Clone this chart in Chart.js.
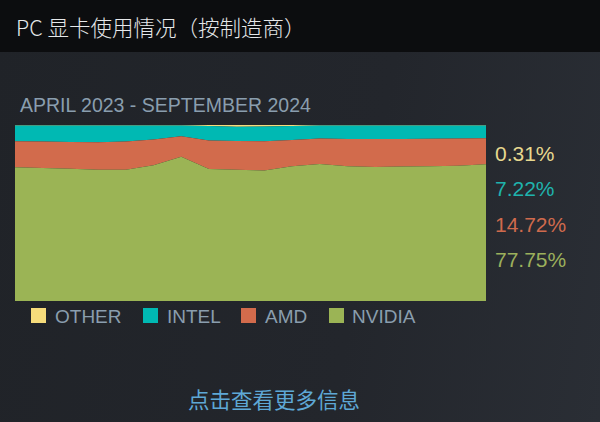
<!DOCTYPE html>
<html>
<head>
<meta charset="utf-8">
<script src="https://cdn.jsdelivr.net/npm/chart.js@4"></script>
<style>
  html, body { margin:0; padding:0; }
  body {
    width:600px; height:422px; overflow:hidden; position:relative;
    background: linear-gradient(100deg, #202328 0%, #23262c 60%, #2a2e35 100%);
    font-family: "Liberation Sans", Arial, sans-serif;
  }
  .head {
    position:absolute; left:0; top:0; width:600px; height:52px;
    background:#0c0d0f;
  }
  .head .t {
    position:absolute; left:16px; top:12px;
    font-family:"Noto Sans CJK SC", sans-serif; font-size:21.5px; line-height:30px;
    font-weight:300; color:#e6e8ea;
  }
  .sub {
    position:absolute; left:20px; top:93px; font-size:19.5px; line-height:24px;
    color:#8a9eae;
  }
  .box { position:absolute; left:15px; top:125px; width:471px; height:176px; }
  .pct { position:absolute; left:495px; font-size:21px; line-height:24px; }
  .legend { position:absolute; top:307px; left:0; height:20px; }
  .legend span.sq { position:absolute; top:1px; width:15px; height:15px; }
  .legend span.lb { position:absolute; top:0; font-size:19px; line-height:19px; color:#8a9eae; white-space:nowrap; }
  .more {
    position:absolute; left:0; width:548px; top:385px; text-align:center;
    font-family:"Noto Sans CJK SC", sans-serif; font-size:21.5px; line-height:28px;
    color:#5ea8d6;
  }
</style>
</head>
<body>
<div class="head"><div class="t">PC 显卡使用情况（按制造商）</div></div>
<div class="sub">APRIL 2023 - SEPTEMBER 2024</div>
<div class="box"><canvas id="gpu"></canvas></div>
<div id="pcts"></div>
<div class="legend" id="legend"></div>
<div class="more">点击查看更多信息</div>
<script>
// months, April 2023 .. September 2024
let months = ['2023-04','2023-05','2023-06','2023-07','2023-08','2023-09','2023-10','2023-11','2023-12',
              '2024-01','2024-02','2024-03','2024-04','2024-05','2024-06','2024-07','2024-08','2024-09'];

let nvidia = [75.95, 75.5, 75.2, 74.6, 74.6, 77.1, 81.9, 75.0, 74.6, 74.2, 76.6, 77.9, 76.5, 76.2, 76.4, 76.6, 76.9, 77.75];
let amd    = [14.85, 15.1, 15.1, 15.6, 16.0, 14.6, 11.7, 16.2, 16.3, 16.6, 14.9, 14.4, 15.6, 15.9, 15.7, 15.6, 15.4, 14.72];
let intel  = [8.9, 9.1, 9.4, 9.5, 9.1, 8.0, 6.1, 8.2, 8.1, 8.3, 8.0, 7.4, 7.6, 7.6, 7.6, 7.5, 7.4, 7.22];
let other  = [0.3, 0.3, 0.3, 0.3, 0.3, 0.3, 0.3, 0.6, 1.0, 0.9, 0.5, 0.3, 0.3, 0.3, 0.3, 0.3, 0.3, 0.31];

let names  = ['OTHER','INTEL','AMD','NVIDIA'];
let colors = {OTHER:'#f6dc7b', INTEL:'#00b9b3', AMD:'#d26b4c', NVIDIA:'#9bb455'};
let textColors = {OTHER:'#e6d88f', INTEL:'#1fb3ad', AMD:'#cf6a4d', NVIDIA:'#9cb05c'};

let series = {NVIDIA:nvidia, AMD:amd, INTEL:intel, OTHER:other};

function ds(name, first){
  return {
    label:name,
    data:series[name],
    backgroundColor:colors[name],
    borderColor:colors[name],
    borderWidth:0,
    pointRadius:0,
    fill: first ? 'origin' : '-1',
    tension:0
  }
}

new Chart(document.getElementById('gpu'), {
  type:'line',
  data:{
    labels:months,
    datasets:[ds('NVIDIA',true), ds('AMD'), ds('INTEL'), ds('OTHER')]
  },
  options:{
    responsive:true,
    maintainAspectRatio:false,
    animation:false,
    layout:{padding:0},
    plugins:{legend:{display:false}, tooltip:{enabled:false}},
    scales:{
      x:{display:false, offset:false},
      y:{display:false, stacked:true, min:0, max:100}
    }
  }
});

// last month values on the right
let pctTop = {OTHER:142, INTEL:177, AMD:213, NVIDIA:248};
let pcts = document.getElementById('pcts');
names.forEach(n => {
  let v = series[n][series[n].length-1];
  pcts.insertAdjacentHTML('beforeend',
    '<div class="pct" style="top:'+pctTop[n]+'px;color:'+textColors[n]+'">'+v.toFixed(2)+'%</div>');
});

// legend
let legX = {OTHER:[31,55], INTEL:[143,167], AMD:[241,265], NVIDIA:[329,352]};
let legend = document.getElementById('legend');
names.forEach(n => {
  legend.insertAdjacentHTML('beforeend',
    '<span class="sq" style="left:'+legX[n][0]+'px;background:'+colors[n]+'"></span>' +
    '<span class="lb" style="left:'+legX[n][1]+'px">'+n+'</span>');
});
</script>
</body>
</html>
